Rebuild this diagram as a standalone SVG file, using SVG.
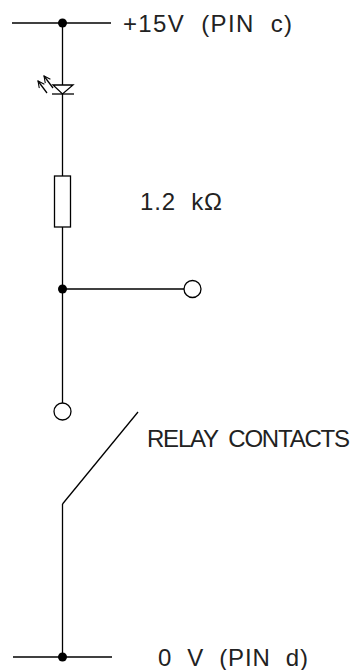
<svg xmlns="http://www.w3.org/2000/svg" width="353" height="670" viewBox="0 0 353 670">
  <style>
    .w { stroke: #000; stroke-width: 1.3; fill: none; stroke-linecap: butt; }
    .body { stroke: #000; stroke-width: 1.3; fill: #fff; }
    .dot { fill: #000; stroke: none; }
    .lbl { font-family: "Liberation Sans", Arial, sans-serif; font-size: 24px; fill: #222; white-space: pre; }
  </style>
  <defs>
    <marker id="ah" viewBox="0 0 10 10" refX="9" refY="5" markerWidth="8" markerHeight="8" orient="auto" markerUnits="userSpaceOnUse">
      <path d="M1,1 L9,5 L1,9" fill="none" stroke="#000" stroke-width="1.3"/>
    </marker>
  </defs>
  <rect width="353" height="670" fill="#fff"/>

  <g id="connectors">
    <line class="w" x1="12" y1="23" x2="111" y2="23"/>
    <line class="w" x1="62.5" y1="23" x2="62.5" y2="176"/>
    <line class="w" x1="62.5" y1="227" x2="62.5" y2="403"/>
    <line class="w" x1="62.5" y1="289" x2="184" y2="289"/>
    <line class="w" x1="62.5" y1="504" x2="62.5" y2="657"/>
    <line class="w" x1="13" y1="657" x2="112" y2="657"/>
  </g>

  <g id="supply-top">
    <circle class="dot" cx="62.5" cy="23" r="4.5"/>
    <text class="lbl" xml:space="preserve" x="123" y="32" textLength="169" lengthAdjust="spacing">+15V  (PIN  c)</text>
  </g>

  <g id="led">
    <polygon class="body" points="53,85 73,85 62.5,94"/>
    <line class="w" x1="52" y1="94" x2="74" y2="94"/>
    <line class="w" x1="47" y1="93" x2="38" y2="81" marker-end="url(#ah)"/>
    <line class="w" x1="53" y1="88" x2="44" y2="76" marker-end="url(#ah)"/>
  </g>

  <g id="resistor">
    <rect class="body" x="54.5" y="176" width="16" height="51"/>
    <text class="lbl" xml:space="preserve" x="140" y="210" textLength="82" lengthAdjust="spacing">1.2  kΩ</text>
  </g>

  <g id="junction">
    <circle class="dot" cx="62.5" cy="289" r="4.5"/>
  </g>

  <g id="output-terminal">
    <circle class="body" cx="192.5" cy="289" r="8.5"/>
  </g>

  <g id="relay-contacts">
    <circle class="body" cx="62.5" cy="411.5" r="8.5"/>
    <polyline class="w" points="138,412 62.5,504"/>
    <text class="lbl" xml:space="preserve" x="147" y="447" textLength="203" lengthAdjust="spacing">RELAY  CONTACTS</text>
  </g>

  <g id="supply-bottom">
    <circle class="dot" cx="62.5" cy="657" r="4.5"/>
    <text class="lbl" xml:space="preserve" x="158" y="666" textLength="150" lengthAdjust="spacing">0  V  (PIN  d)</text>
  </g>
</svg>
